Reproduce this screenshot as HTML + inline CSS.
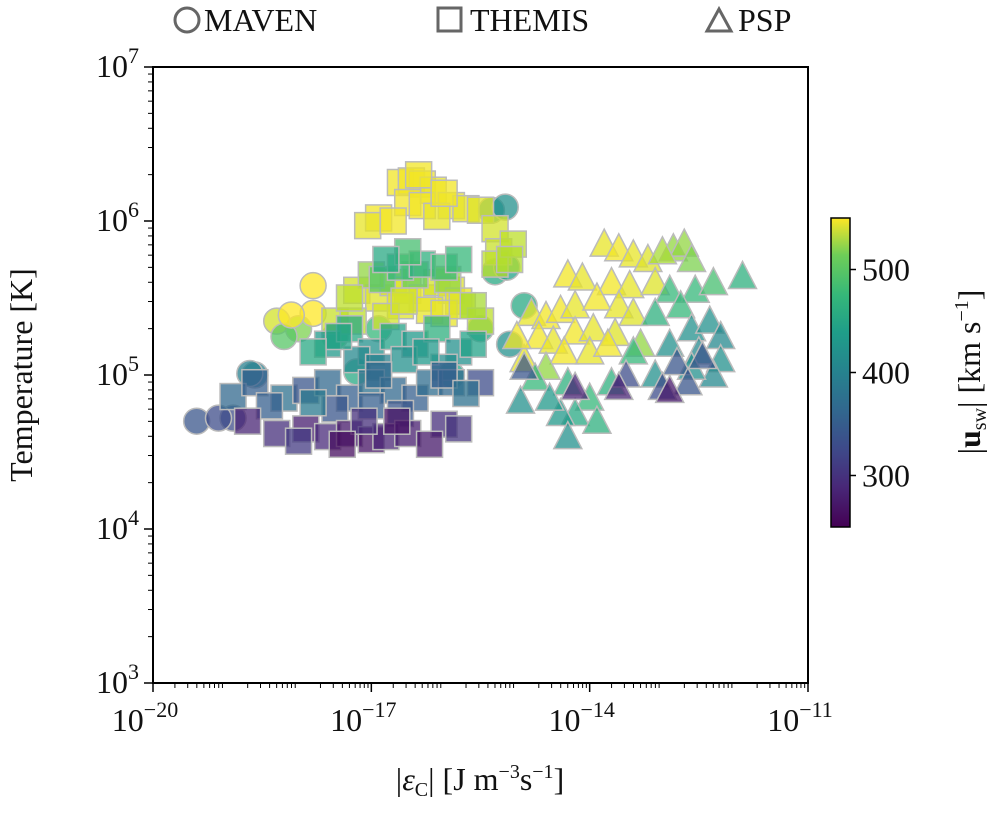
<!DOCTYPE html>
<html><head><meta charset="utf-8"><style>
body{margin:0;background:#fff;}
svg text{font-family:"Liberation Serif",serif;fill:#111;}
</style></head><body>
<svg id="chart" width="1000" height="813" viewBox="0 0 1000 813" xmlns="http://www.w3.org/2000/svg">
<defs>
<linearGradient id="vir" x1="0" y1="1" x2="0" y2="0">
<stop offset="0" stop-color="#440154"/><stop offset="0.13" stop-color="#482878"/><stop offset="0.25" stop-color="#3e4989"/><stop offset="0.38" stop-color="#31688e"/><stop offset="0.5" stop-color="#26828e"/><stop offset="0.63" stop-color="#1f9e89"/><stop offset="0.75" stop-color="#35b779"/><stop offset="0.88" stop-color="#6ece58"/><stop offset="1" stop-color="#fde725"/>
</linearGradient>
</defs>
<g id="legend">
<g><circle cx="187" cy="20" r="12" fill="none" stroke="#666" stroke-width="3"/><text x="204" y="31" font-size="32">MAVEN</text></g>
<g><rect x="438" y="8" width="23" height="23" fill="none" stroke="#666" stroke-width="3"/><text x="470" y="31" font-size="32">THEMIS</text></g>
<g><polygon points="707,31 719,9 731,31" fill="none" stroke="#666" stroke-width="3"/><text x="738" y="31" font-size="32">PSP</text></g>
</g>
<g id="marks"></g>
<rect x="153" y="67" width="655" height="616" fill="none" stroke="#000" stroke-width="2"/>
<g id="axes"></g>
<text x="480" y="790" font-size="32" text-anchor="middle">|<tspan font-style="italic">ε</tspan><tspan font-size="20" dy="6">C</tspan><tspan dy="-6">| [J m</tspan><tspan font-size="20" dy="-12">−3</tspan><tspan dy="12">s</tspan><tspan font-size="20" dy="-12">−1</tspan><tspan dy="12">]</tspan></text>
<text transform="translate(32,375) rotate(-90)" font-size="32" text-anchor="middle">Temperature [K]</text>
<rect x="831" y="218" width="19" height="309" fill="url(#vir)" stroke="#000" stroke-width="1.5"/>
<g id="cbticks"></g>
<text transform="translate(980,372) rotate(-90)" font-size="32" text-anchor="middle">|<tspan font-weight="bold">u</tspan><tspan font-size="20" dy="6">sw</tspan><tspan dy="-6">| [km s</tspan><tspan font-size="20" dy="-12">−1</tspan><tspan dy="12">]</tspan></text>
</svg>
<script>
const squareX=[-16.6,-16.45,-16.3,-16.15,-16.5,-16.3,-15.9,-15.7,-15.5,-16.9,-17.05,-16.7,-16.1,-15.3,-15.25,-15.3,-16.35,-16.0,-15.05,-15.1,
-17.2,-16.9,-16.7,-16.5,-16.3,-16.1,-15.9,-15.8,-16.6,-16.2,-16.0,-15.75,-17.5,-17.25,-16.8,-15.5,-17.0,-16.4,-15.6,-16.85,-15.95,-16.55,-17.3,
-16.6,-16.3,-16.0,-16.5,-16.8,-15.8,
-17.6,-17.3,-17.0,-16.7,-16.4,-16.1,-15.8,-17.2,-16.9,-16.0,-17.45,-16.55,-16.25,-15.6,-17.8,
-18.9,-18.6,-18.2,-17.9,-17.6,-17.3,-17.0,-16.7,-16.4,-16.2,-15.9,-15.5,-17.5,-17.0,-16.6,-17.8,-16.9,-16.0,-15.7,-18.4,
-18.7,-18.3,-17.9,-17.6,-17.3,-17.0,-16.8,-16.5,-16.0,-15.8,-16.2,-17.1,-17.4,-16.65,-18.0];
const squareT=[6.25,6.26,6.24,6.2,6.12,6.1,6.1,6.08,6.07,6.02,5.97,6.0,6.03,5.95,5.8,5.72,6.3,6.18,5.85,5.75,
5.55,5.5,5.6,5.55,5.5,5.6,5.55,5.48,5.45,5.42,5.4,5.45,5.35,5.35,5.38,5.35,5.65,5.65,5.45,5.62,5.62,5.48,5.5,
5.7,5.72,5.7,5.8,5.75,5.75,
5.2,5.3,5.15,5.25,5.2,5.3,5.15,5.1,5.05,5.05,5.25,5.1,5.15,5.2,5.15,
4.86,4.95,4.85,4.9,4.95,4.85,4.95,4.9,4.85,4.95,4.95,4.95,4.78,4.8,4.75,4.82,5.0,5.0,4.88,4.8,
4.7,4.62,4.65,4.6,4.62,4.58,4.6,4.62,4.68,4.65,4.55,4.7,4.55,4.7,4.57];
const squareU=[545,545,545,540,545,545,540,540,535,545,540,545,540,530,525,520,545,545,520,515,
530,535,530,535,540,530,535,540,535,540,540,535,525,520,530,520,500,480,510,470,500,530,520,
450,440,455,460,430,450,
410,430,400,420,410,440,400,390,380,395,420,400,410,420,430,
350,340,360,330,350,340,360,350,340,355,350,320,330,340,330,370,350,340,360,340,
280,290,275,285,270,265,280,275,290,295,270,290,260,265,300];
const circleX=[-19.4,-18.9,-18.6,-18.0,-17.8,-18.3,-17.2,-15.3,-15.35,-15.1,-14.9,-15.9,-19.1,-18.67,-18.2,-18.1,-17.8,-15.16,-15.14,-17.5,-16.9,-15.5];
const circleT=[4.7,4.72,5.0,5.3,5.4,5.35,5.02,5.67,6.07,5.2,5.45,5.0,4.72,5.01,5.25,5.39,5.58,6.09,5.7,5.25,5.3,5.3];
const circleU=[330,320,380,490,550,530,430,430,400,400,430,420,320,380,470,550,550,400,420,460,450,430];
const triX=[-13.8,-13.6,-13.4,-13.2,-14.3,-14.1,-13.7,-13.45,-13.1,-14.8,-14.6,-14.4,-14.2,-13.9,-13.6,-14.7,-14.5,-14.2,-13.95,-13.65,-14.35,-14.0,-13.75,-14.9,-15.0,-13.4,
-12.85,-12.7,-13.0,-12.6,-14.6,-13.3,
-12.9,-12.55,-12.3,-13.1,-12.75,-14.75,-14.3,-14.0,-13.7,-14.2,-13.9,-13.4,-11.9,
-12.6,-12.35,-12.2,-12.9,-12.5,-12.2,-14.95,-14.4,-14.3,-12.3,-12.6,-13.1,-14.55,
-12.45,-12.8,-13.5,-14.9,-13.0,-12.65,-13.6,-12.9,-14.2];
const triT=[5.85,5.82,5.78,5.75,5.65,5.63,5.6,5.58,5.6,5.4,5.38,5.42,5.45,5.5,5.45,5.25,5.22,5.28,5.3,5.27,5.15,5.15,5.2,5.1,5.25,5.4,
5.82,5.85,5.8,5.75,5.05,5.2,
5.55,5.55,5.6,5.4,5.45,4.98,4.95,4.85,4.95,4.75,4.7,5.15,5.64,
5.3,5.35,5.25,5.2,5.15,5.1,4.83,4.75,4.6,5.0,5.05,5.0,4.85,
5.12,5.08,5.0,5.05,4.92,4.95,4.92,4.9,4.92];
const triU=[540,545,540,535,545,540,545,540,535,540,545,545,540,545,540,545,540,545,540,535,545,540,545,540,545,535,
500,500,510,490,500,500,
450,450,460,440,450,450,440,450,440,430,440,450,440,
400,400,390,400,390,400,400,410,400,390,400,400,410,
330,330,320,330,320,330,280,270,280];
const xTickExp=[-20,-17,-14,-11];
const yTickExp=[3,4,5,6,7];
const cbTicks=[300,400,500];

const X0=153,X1=808,Y0=683,Y1=67;
const xs=v=>X0+(v+20)/9*(X1-X0);
const ys=v=>Y0-(v-3)/4*(Y0-Y1);
const cs=u=>527-(u-250)/300*309;
const vir=[[68,1,84],[72,40,120],[62,73,137],[49,104,142],[38,130,142],[31,158,137],[53,183,121],[110,206,88],[181,222,43],[253,231,37]];
function col(u){if(typeof u!=='number'||isNaN(u))u=400;let t=Math.max(0,Math.min(1,(u-250)/300))*(vir.length-1);let i=Math.min(vir.length-2,Math.floor(t)),f=t-i;
const c=vir[i].map((a,k)=>Math.round(a+(vir[i+1][k]-a)*f));return `rgb(${c})`;}
const NS="http://www.w3.org/2000/svg";
const marks=document.getElementById('marks');
function mk(tag,attrs,parent){const e=document.createElementNS(NS,tag);for(const k in attrs)e.setAttribute(k,attrs[k]);parent.appendChild(e);return e;}
const S=26;
circleX.forEach((x,i)=>{if(circleT[i]===undefined)return;const e=mk('circle',{cx:xs(x),cy:ys(circleT[i]),r:13,fill:col(circleU[i]),'fill-opacity':0.75,stroke:'#bbb','stroke-width':1.5},marks);

});
squareX.forEach((x,i)=>{if(squareT[i]===undefined)return;const e=mk('rect',{x:xs(x)-S/2,y:ys(squareT[i])-S/2,width:S,height:S,fill:col(squareU[i]),'fill-opacity':0.75,stroke:'#bbb','stroke-width':1.5},marks);

});
triX.forEach((x,i)=>{if(triT[i]===undefined)return;const cx=xs(x),cy=ys(triT[i]);const e=mk('polygon',{points:`${cx-14},${cy+12} ${cx},${cy-15} ${cx+14},${cy+12}`,fill:col(triU[i]),'fill-opacity':0.75,stroke:'#bbb','stroke-width':1.5},marks);

});
const ax=document.getElementById('axes');
for(let d=-20;d<-11;d++)for(let m=2;m<10;m++){const px=xs(d+Math.log10(m));mk('line',{x1:px,x2:px,y1:Y0,y2:Y0+5,stroke:'#000','stroke-width':1},ax);}
for(let d=3;d<7;d++)for(let m=2;m<10;m++){const py=ys(d+Math.log10(m));mk('line',{x1:X0,x2:X0-5,y1:py,y2:py,stroke:'#000','stroke-width':1},ax);}
xTickExp.forEach(e=>{const px=xs(e);mk('line',{x1:px,x2:px,y1:Y0,y2:Y0+9,stroke:'#000','stroke-width':1.5},ax);
const t=mk('text',{x:px-8,y:Y0+48,'font-size':32,'text-anchor':'middle'},ax);t.innerHTML=`10<tspan font-size="22" dy="-14">${e<0?'−'+(-e):e}</tspan>`;

});
yTickExp.forEach(e=>{const py=ys(e);mk('line',{x1:X0,x2:X0-9,y1:py,y2:py,stroke:'#000','stroke-width':1.5},ax);
const t=mk('text',{x:X0-14,y:py+10,'font-size':32,'text-anchor':'end'},ax);t.innerHTML=`10<tspan font-size="22" dy="-14">${e}</tspan>`;

});
const cb=document.getElementById('cbticks');
cbTicks.forEach(v=>{const py=cs(v);mk('line',{x1:850,x2:856,y1:py,y2:py,stroke:'#000','stroke-width':1.5},cb);
const t=mk('text',{x:862,y:py+11,'font-size':32},cb);t.textContent=v;

});
</script>
</body></html>
